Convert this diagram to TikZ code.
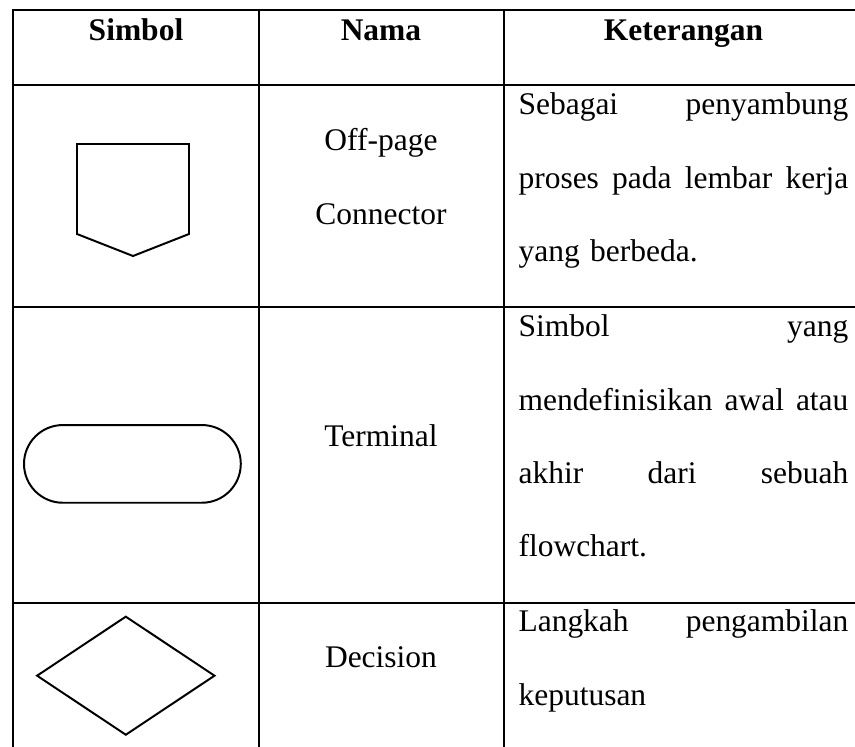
\documentclass[tikz,border=0pt]{standalone}
\usepackage{fontspec}
\setmainfont{Liberation Serif}
\usepackage{tikz}
\usetikzlibrary{shapes}
\tikzstyle{tableline}=[draw,line width=1pt]
\tikzstyle{symline}=[draw,line width=0.75pt]
\tikzstyle{headtxt}=[anchor=base,inner sep=0pt,font=\fontsize{12}{14}\selectfont\bfseries]
\tikzstyle{nametxt}=[anchor=base,inner sep=0pt,align=center,font=\fontsize{12}{28.2}\selectfont]
\tikzstyle{infotxt}=[anchor=base west,inner sep=0pt,text width=125.7pt,align=left,font=\fontsize{12}{27.9}\selectfont]
\tikzstyle{terminal}=[symline,rounded rectangle,minimum width=82.6pt,minimum height=29.6pt,inner sep=0pt]
\tikzstyle{decision}=[symline,diamond,minimum width=67.9pt,minimum height=45.3pt,inner sep=0pt]

\begin{document}
\begin{tikzpicture}[x=0.381pt,y=-0.381pt]
        \useasboundingbox (0,0) rectangle (855,747);
        % table lines
        \draw[tableline] (13,747) -- (13,10) -- (855,10);
        \draw[tableline] (259,10) -- (259,747);
        \draw[tableline] (504,10) -- (504,747);
        \foreach \y in {85,307,603}
          \draw[tableline] (13,\y) -- (855,\y);
        % header
        \node[headtxt] (simbol) at (136,41) {Simbol};
        \node[headtxt] (nama) at (381,41) {Nama};
        \node[headtxt] (ket) at (683.5,41) {Keterangan};
        % off-page connector (base = last line)
        \draw[symline] (77,144) -- (189,144) -- (189,234) -- (133,256) -- (77,234) -- cycle;
        \node[nametxt] (offpage) at (381,225) {Off-page\\Connector};
        \node[infotxt] (ketoff) at (518,115) {Sebagai \hfill penyambung\\
          proses \hfill pada \hfill lembar \hfill kerja\\
          yang berbeda.};
        % terminal
        \node[terminal] (term) at (132.4,463.9) {};
        \node[nametxt] (terminal) at (381,446.7) {Terminal};
        \node[infotxt] (ketterm) at (518,337) {Simbol \hfill yang\\
          mendefinisikan \hfill awal \hfill atau\\
          akhir \hfill dari \hfill sebuah\\
          flowchart.};
        % decision
        \node[decision] (dec) at (125.8,675.7) {};
        \node[nametxt] (decision) at (381,668) {Decision};
        \node[infotxt] (ketdec) at (518,632) {Langkah \hfill pengambilan\\
          keputusan};
      \end{tikzpicture}
\end{document}
